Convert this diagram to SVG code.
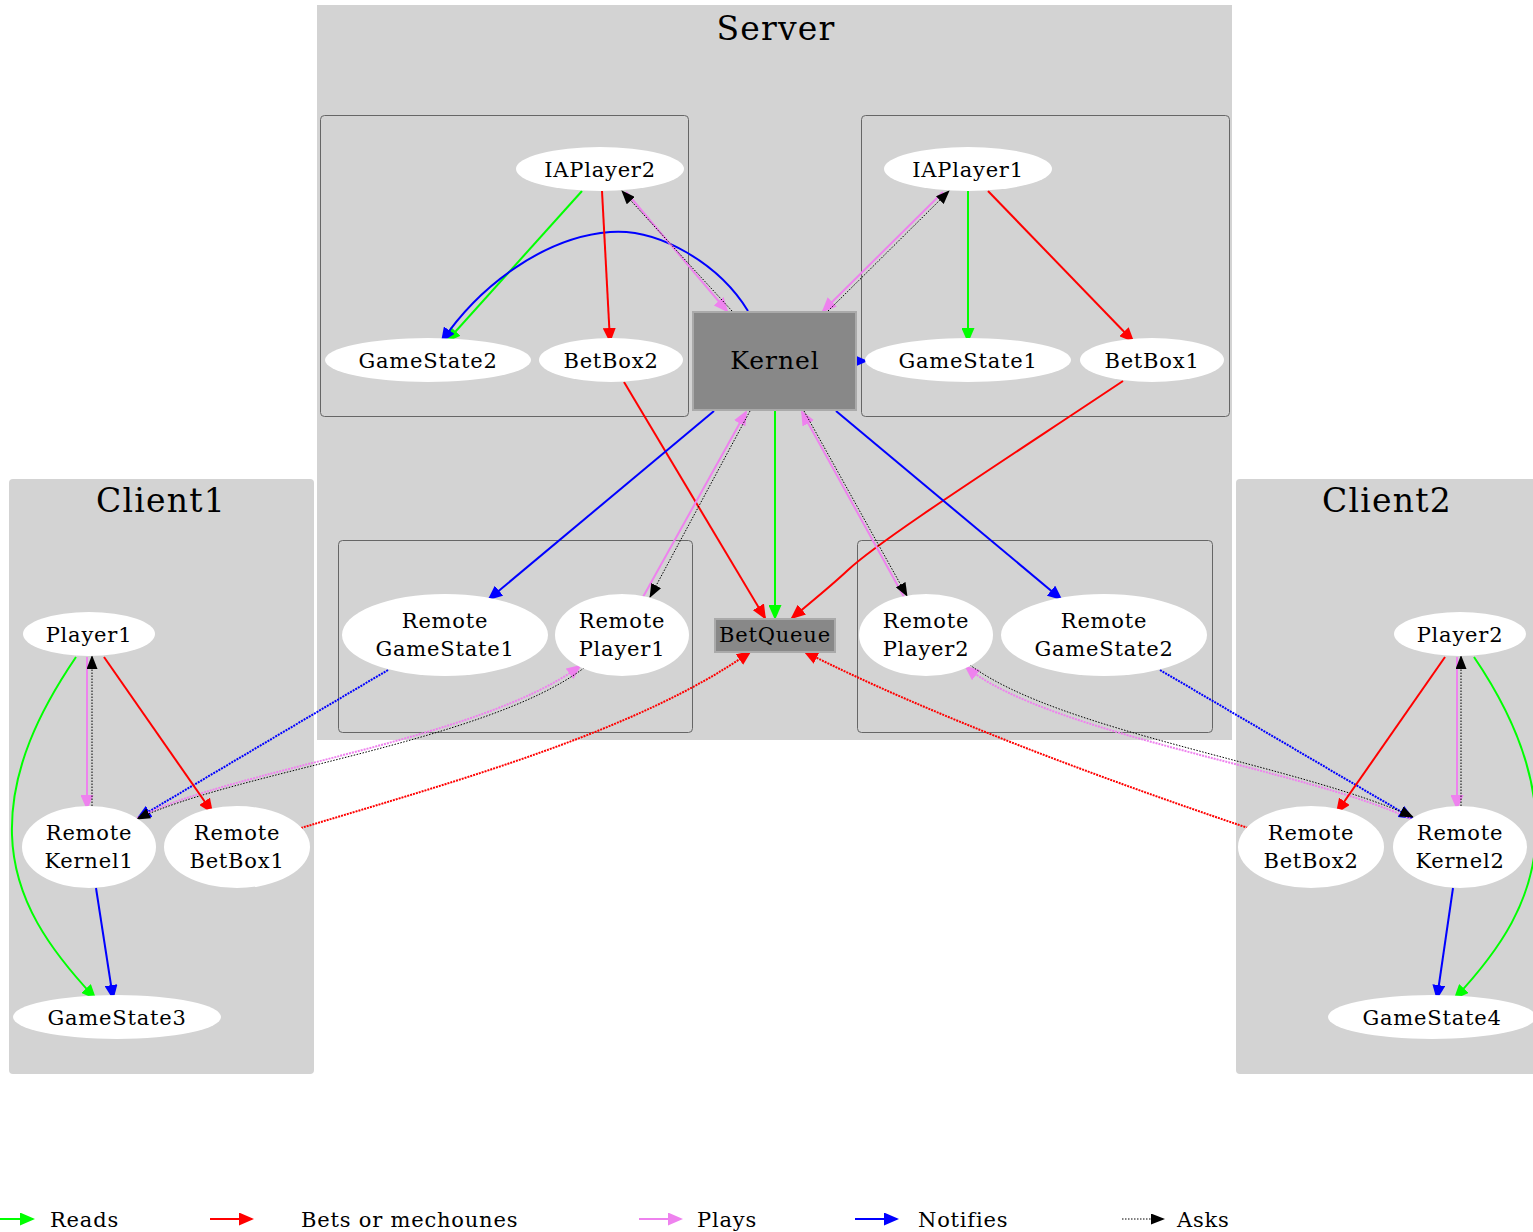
<svg xmlns="http://www.w3.org/2000/svg" width="1533" height="1232" viewBox="0 0 1533 1232">
<style>
text{font-family:"DejaVu Serif","Liberation Serif",serif;fill:#000;text-anchor:middle}
.t{font-size:21px;letter-spacing:0.8px}
.ct{font-size:33px;letter-spacing:1.2px}
.lg{font-size:21px;letter-spacing:0.8px;text-anchor:start}
.cl{fill:#d3d3d3;stroke:none}
.sub{fill:#d3d3d3;stroke:#666;stroke-width:1}
.n{fill:#fff;stroke:none}
.box{fill:#888;stroke:#aaa;stroke-width:2}
.e{fill:none;stroke-width:2}
.g{stroke:#00ff00;marker-end:url(#ag)}
.r{stroke:#ff0000;marker-end:url(#ar)}
.v{stroke:#ee82ee;marker-end:url(#av)}
.b{stroke:#0000ff;marker-end:url(#ab)}
.k{stroke:#000;stroke-width:1;stroke-dasharray:1.5,1.5;marker-end:url(#ak)}
.d{stroke-dasharray:2,1}
</style>
<defs>
<marker id="ag" viewBox="0 0 15 13" refX="13" refY="6.5" markerWidth="15" markerHeight="13" markerUnits="userSpaceOnUse" orient="auto"><path d="M0,0L15,6.5L0,13z" fill="#00ff00"/></marker>
<marker id="ar" viewBox="0 0 15 13" refX="13" refY="6.5" markerWidth="15" markerHeight="13" markerUnits="userSpaceOnUse" orient="auto"><path d="M0,0L15,6.5L0,13z" fill="#ff0000"/></marker>
<marker id="av" viewBox="0 0 15 13" refX="13" refY="6.5" markerWidth="15" markerHeight="13" markerUnits="userSpaceOnUse" orient="auto"><path d="M0,0L15,6.5L0,13z" fill="#ee82ee"/></marker>
<marker id="ab" viewBox="0 0 15 13" refX="13" refY="6.5" markerWidth="15" markerHeight="13" markerUnits="userSpaceOnUse" orient="auto"><path d="M0,0L15,6.5L0,13z" fill="#0000ff"/></marker>
<marker id="ak" viewBox="0 0 14 11" refX="13" refY="5.5" markerWidth="14" markerHeight="11" markerUnits="userSpaceOnUse" orient="auto"><path d="M0,0L14,5.5L0,11z" fill="#000"/></marker>
</defs>
<rect width="1533" height="1232" fill="#fff"/>

<g id="clusters">
<g id="cluster_server">
<rect class="cl" x="317" y="5" width="915" height="735"/>
<text class="ct" x="776" y="40">Server</text>
<rect class="sub" x="320.5" y="115.5" width="368" height="301" rx="4"/>
<rect class="sub" x="861.5" y="115.5" width="368" height="301" rx="4"/>
<rect class="sub" x="338.5" y="540.5" width="354" height="192" rx="4"/>
<rect class="sub" x="857.5" y="540.5" width="355" height="192" rx="4"/>
</g>
<g id="cluster_client1">
<rect class="cl" x="9" y="479" width="305" height="595" rx="4"/>
<text class="ct" x="161" y="512">Client1</text>
</g>
<g id="cluster_client2">
<rect class="cl" x="1236" y="479" width="310" height="595" rx="4"/>
<text class="ct" x="1387" y="512">Client2</text>
</g>
</g>

<g id="edges">
<path class="e g" d="M582,191L447,341"/>
<path class="e b" d="M748,311C720,265 660,228 610,232C545,237 480,285 442,341"/>
<path class="e r" d="M602,191L610,341"/>
<path class="e v" d="M626,192L727,311"/>
<path class="e k" d="M732,311L622,191"/>
<path class="e v" d="M943,192L823,311"/>
<path class="e k" d="M828,311L949,191"/>
<path class="e g" d="M968,191L968,341"/>
<path class="e r" d="M988,191L1133,341"/>
<path class="e b" d="M851,361L866,361"/>
<path class="e r" d="M624,382L765,618"/>
<path class="e r" d="M1123,381C1000,463 880,540 848,570C830,587 805,607 792,618"/>
<path class="e g" d="M775,411L775,618"/>
<path class="e b" d="M714,411L489,599"/>
<path class="e b" d="M836,411L1061,599"/>
<path class="e v" d="M643,597L746,412"/>
<path class="e k" d="M750,411L650,597"/>
<path class="e v" d="M904,597L802,412"/>
<path class="e k" d="M804,411L907,596"/>
<path class="e r d" d="M301,828C460,780 640,730 750,652"/>
<path class="e r d" d="M1248,828C1100,778 930,715 805,652"/>
<path class="e b d" d="M388,670L138,818"/>
<path class="e v d" d="M137,818C230,770 480,740 580,666"/>
<path class="e k" d="M584,668C485,742 235,772 137,819"/>
<path class="e b d" d="M1160,670L1412,818"/>
<path class="e v d" d="M1413,820C1310,770 1050,735 966,667"/>
<path class="e k" d="M970,665C1060,732 1300,765 1413,817"/>
<path class="e v" d="M87,657L87,808"/>
<path class="e k" d="M92,806L92,656"/>
<path class="e r" d="M104,657L212,812"/>
<path class="e g" d="M76,657C40,710 10,770 12,835C14,900 50,950 95,998"/>
<path class="e b" d="M96,888L113,998"/>
<path class="e r" d="M1445,657L1337,812"/>
<path class="e v" d="M1457,657L1457,808"/>
<path class="e k" d="M1461,806L1461,656"/>
<path class="e g" d="M1474,657C1510,710 1538,770 1536,835C1534,900 1500,950 1455,998"/>
<path class="e b" d="M1453,888L1437,998"/>
</g>

<g id="node_IAPlayer2"><ellipse class="n" cx="600" cy="169" rx="84" ry="22"/><text class="t" x="600" y="177">IAPlayer2</text></g>
<g id="node_GameState2"><ellipse class="n" cx="428" cy="360" rx="103" ry="22"/><text class="t" x="428" y="368">GameState2</text></g>
<g id="node_BetBox2"><ellipse class="n" cx="611" cy="360" rx="72" ry="22"/><text class="t" x="611" y="368">BetBox2</text></g>
<g id="node_Kernel"><rect class="box" x="693" y="312" width="163" height="98"/><text x="775" y="369" style="font-size:25px;letter-spacing:1px">Kernel</text></g>
<g id="node_IAPlayer1"><ellipse class="n" cx="968" cy="169" rx="84" ry="22"/><text class="t" x="968" y="177">IAPlayer1</text></g>
<g id="node_GameState1"><ellipse class="n" cx="968" cy="360" rx="103" ry="22"/><text class="t" x="968" y="368">GameState1</text></g>
<g id="node_BetBox1"><ellipse class="n" cx="1152" cy="360" rx="72" ry="22"/><text class="t" x="1152" y="368">BetBox1</text></g>
<g id="node_RemoteGameState1"><ellipse class="n" cx="445" cy="635" rx="103" ry="41"/><text class="t" x="445" y="628">Remote</text><text class="t" x="445" y="656">GameState1</text></g>
<g id="node_RemotePlayer1"><ellipse class="n" cx="622" cy="635" rx="67" ry="41"/><text class="t" x="622" y="628">Remote</text><text class="t" x="622" y="656">Player1</text></g>
<g id="node_BetQueue"><rect class="box" x="715" y="619" width="120" height="33"/><text class="t" x="775" y="642">BetQueue</text></g>
<g id="node_RemotePlayer2"><ellipse class="n" cx="926" cy="635" rx="67" ry="41"/><text class="t" x="926" y="628">Remote</text><text class="t" x="926" y="656">Player2</text></g>
<g id="node_RemoteGameState2"><ellipse class="n" cx="1104" cy="635" rx="103" ry="41"/><text class="t" x="1104" y="628">Remote</text><text class="t" x="1104" y="656">GameState2</text></g>
<g id="node_Player1"><ellipse class="n" cx="89" cy="634" rx="66" ry="22"/><text class="t" x="89" y="642">Player1</text></g>
<g id="node_RemoteKernel1"><ellipse class="n" cx="89" cy="847" rx="67" ry="41"/><text class="t" x="89" y="840">Remote</text><text class="t" x="89" y="868">Kernel1</text></g>
<g id="node_RemoteBetBox1"><ellipse class="n" cx="237" cy="847" rx="73" ry="41"/><text class="t" x="237" y="840">Remote</text><text class="t" x="237" y="868">BetBox1</text></g>
<g id="node_GameState3"><ellipse class="n" cx="117" cy="1017" rx="104" ry="22"/><text class="t" x="117" y="1025">GameState3</text></g>
<g id="node_Player2"><ellipse class="n" cx="1460" cy="634" rx="66" ry="22"/><text class="t" x="1460" y="642">Player2</text></g>
<g id="node_RemoteBetBox2"><ellipse class="n" cx="1311" cy="847" rx="73" ry="41"/><text class="t" x="1311" y="840">Remote</text><text class="t" x="1311" y="868">BetBox2</text></g>
<g id="node_RemoteKernel2"><ellipse class="n" cx="1460" cy="847" rx="67" ry="41"/><text class="t" x="1460" y="840">Remote</text><text class="t" x="1460" y="868">Kernel2</text></g>
<g id="node_GameState4"><ellipse class="n" cx="1432" cy="1017" rx="104" ry="22"/><text class="t" x="1432" y="1025">GameState4</text></g>

<g id="legend">
<path class="e g" d="M0,1219L33,1219"/><text class="lg" x="50" y="1227">Reads</text>
<path class="e r" d="M210,1219L252,1219"/><text class="lg" x="301" y="1227">Bets or mechounes</text>
<path class="e v" d="M639,1219L681,1219"/><text class="lg" x="697" y="1227">Plays</text>
<path class="e b" d="M855,1219L897,1219"/><text class="lg" x="918" y="1227">Notifies</text>
<path class="e k" d="M1122,1219L1164,1219"/><text class="lg" x="1177" y="1227">Asks</text>
</g>
</svg>
